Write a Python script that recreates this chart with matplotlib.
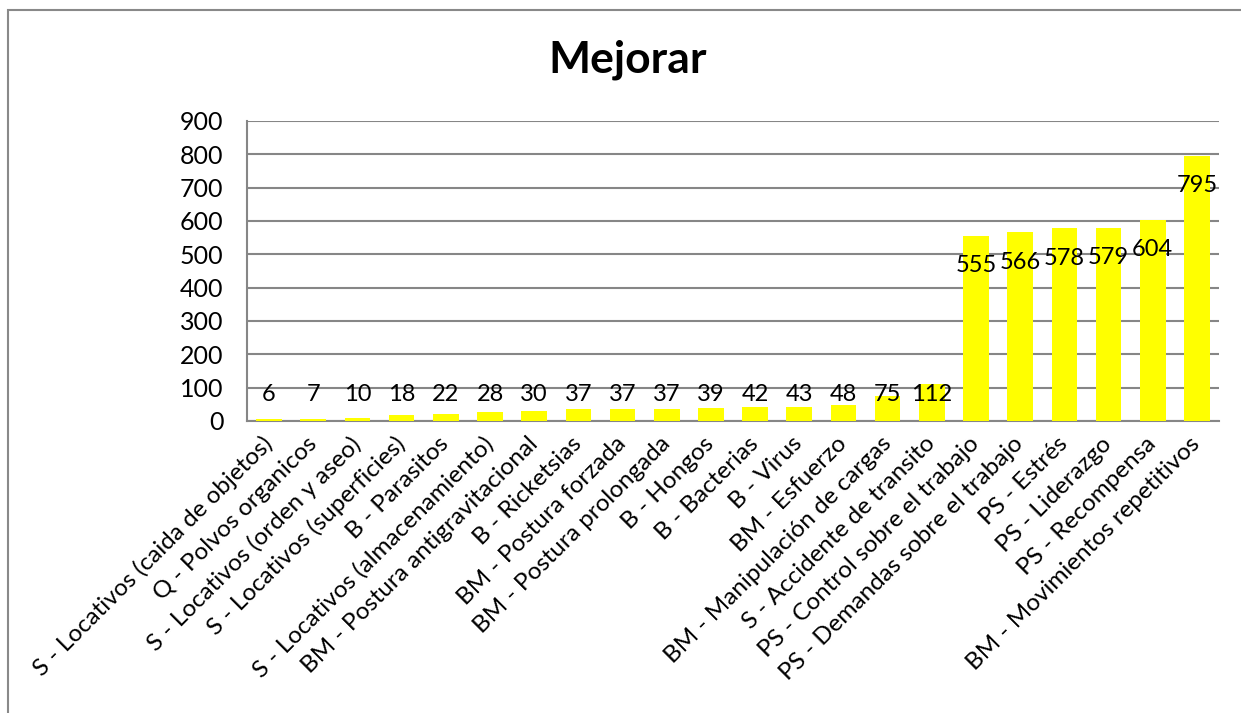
"""Bar chart: Mejorar"""

import matplotlib
matplotlib.use('Agg')
import matplotlib.pyplot as plt
from matplotlib.patches import Rectangle

plt.rcParams['font.family'] = ['Lato', 'DejaVu Sans']

categories = [
	'S - Locativos (caida de objetos)', 'Q - Polvos organicos',
	'S - Locativos (orden y aseo)', 'S - Locativos (superficies)',
	'B - Parasitos', 'S - Locativos (almacenamiento)',
	'BM - Postura antigravitacional', 'B - Ricketsias',
	'BM - Postura forzada', 'BM - Postura prolongada', 'B - Hongos',
	'B - Bacterias', 'B - Virus', 'BM - Esfuerzo',
	'BM - Manipulación de cargas', 'S - Accidente de transito',
	'PS - Control sobre el trabajo', 'PS - Demandas sobre el trabajo',
	'PS - Estrés', 'PS - Liderazgo', 'PS - Recompensa',
	'BM - Movimientos repetitivos',
]
values = [6, 7, 10, 18, 22, 28, 30, 37, 37, 37, 39, 42, 43, 48, 75, 112,
	555, 566, 578, 579, 604, 795]
yticks = [0, 100, 200, 300, 400, 500, 600, 700, 800, 900]

W, H = 1241, 713
fig = plt.figure(figsize=(W/100, H/100), dpi=100)
ax = fig.add_axes([247/W, 1 - 421/H, (1219 - 247)/W, (421 - 121)/H])

sGrid = '#868686'
x = range(len(values))
ax.bar(x, values, width=0.58, color='#FFFF00', zorder=3)

# Data labels: short bars get a label floating at a fixed height,
# tall bars get it tucked just under the top
for i, v in enumerate(values):
	yLab = max(v - 90, 80)
	ax.text(i, yLab, str(v), ha='center', va='center', fontsize=17, zorder=4)

ax.set_xlim(-0.5, len(values) - 0.5)
ax.set_ylim(0, 900)
ax.set_yticks(yticks)
ax.yaxis.grid(True, color=sGrid, linewidth=1.5, zorder=0)
ax.tick_params(axis='y', length=0, labelsize=18, pad=17)
ax.tick_params(axis='x', length=0, labelsize=17.5, pad=14)
ax.set_xticks(list(x))
ax.set_xticklabels(categories, rotation=45, ha='right', va='center',
	rotation_mode='anchor')
for sSide in ('top', 'right'):
	ax.spines[sSide].set_visible(False)
for sSide in ('left', 'bottom'):
	ax.spines[sSide].set_color(sGrid)
	ax.spines[sSide].set_linewidth(1.5)

fig.text(628/W, 1 - 60/H, 'Mejorar', ha='center', va='center',
	fontsize=32, fontweight='bold')

# Chart-area border, runs off the right and bottom edges
fig.patches.append(Rectangle((8/W, -0.1), 1.2, 1.1 - 10/H,
	transform=fig.transFigure, fill=False, edgecolor='#898989', linewidth=1.5))

fig.savefig('out.png', dpi=100)
